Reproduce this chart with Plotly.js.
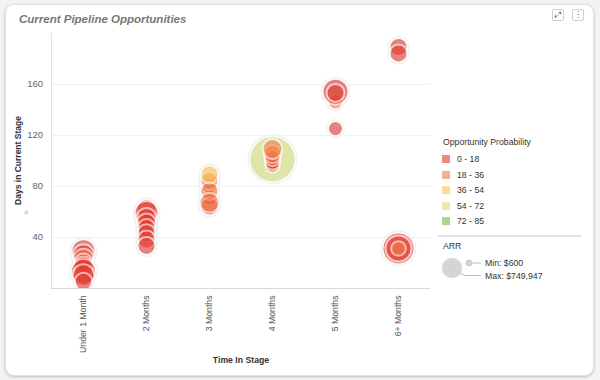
<!DOCTYPE html>
<html>
<head>
<meta charset="utf-8">
<script src="https://cdn.plot.ly/plotly-3.0.1.min.js"></script>
<style>
  html, body { margin:0; padding:0; background:#f3f3f3; width:600px; height:380px; overflow:hidden; }
  #card { position:absolute; left:5px; top:4px; width:587px; height:370px; background:#fff;
          border:1px solid #e2e2e2; border-radius:9px; box-shadow:0 1px 3px rgba(0,0,0,0.22); }
  #chart { position:absolute; left:0; top:0; width:600px; height:380px; }
  .btn { position:absolute; top:9px; width:10px; height:10px; border:1px solid #cfcfcf; border-radius:2px;
         font:8px "DejaVu Sans"; color:#555; text-align:center; line-height:10px; background:#fff; }
</style>
</head>
<body>
<div id="card"></div>
<div id="chart"></div>
<div class="btn" style="left:552px;">⤢</div>
<div class="btn" style="left:572px;">⋮</div>
<script>
// ---- data ----
var months = ['Under 1 Month', '2 Months', '3 Months', '4 Months', '5 Months', '6+ Months'];
var stage = ['4 Months',
  'Under 1 Month','Under 1 Month','Under 1 Month','Under 1 Month','Under 1 Month','Under 1 Month','Under 1 Month','Under 1 Month',
  '2 Months','2 Months','2 Months','2 Months','2 Months','2 Months','2 Months','2 Months',
  '3 Months','3 Months','3 Months','3 Months','3 Months','3 Months','3 Months',
  '4 Months','4 Months','4 Months','4 Months','4 Months',
  '5 Months','5 Months','5 Months','5 Months',
  '6+ Months','6+ Months','6+ Months','6+ Months','6+ Months'];
var days = [101,
  29, 26, 23, 20, 17, 13, 10, 5,
  62, 59, 55, 51, 47, 43, 38, 33,
  80, 71, 64, 84, 76, 67, 89,
  96, 99, 102, 105, 109,
  146, 154, 153, 125,
  189, 184, 31, 31, 31];
var arr = [749947,
  200000, 160000, 140000, 115000, 140000, 220000, 170000, 110000,
  140000, 200000, 140000, 130000, 115000, 115000, 115000, 115000,
  90000, 90000, 115000, 115000, 115000, 140000, 115000,
  70000, 90000, 90000, 115000, 140000,
  80000, 240000, 115000, 80000,
  115000, 115000, 363000, 240000, 75000];
var probability = [60,
  10, 10, 25, 10, 10, 5, 10, 12,
  10, 8, 15, 10, 10, 12, 10, 10,
  10, 10, 10, 25, 30, 25, 45,
  10, 10, 10, 20, 25,
  25, 10, 10, 10,
  10, 10, 10, 10, 25];
var bandLabels = ['0 - 18', '18 - 36', '36 - 54', '54 - 72', '72 - 85'];
var bandTop = [18, 36, 54, 72, 85];
var bandColors = ['#e3392f', '#f47c45', '#fac351', '#d3df76', '#79b750'];
var arrMin = 600, arrMax = 749947;

// ---- helpers ----
var L = 52, R = 430, T = 33, B = 288;
function px(x) { return (x - L) / (R - L); }
function py(y) { return (B - y) / (B - T); }
function band(p) { for (var i = 0; i < bandTop.length; i++) if (p <= bandTop[i]) return i; return bandTop.length - 1; }
var maxD = 46, minD = 6;
var diam = arr.map(function (a) { return Math.max(minD, maxD * Math.sqrt(a / arrMax)); });
var cols = probability.map(function (p) { return bandColors[band(p)]; });

var halo = {
  type: 'scatter', mode: 'markers', x: stage, y: days, hoverinfo: 'skip', showlegend: false,
  marker: { size: diam.map(function (d) { return d + 4; }), sizemode: 'diameter', color: '#e9e9e9', line: { width: 0 } }
};
var bubbles = {
  type: 'scatter', mode: 'markers', x: stage, y: days, showlegend: false,
  marker: { size: diam, sizemode: 'diameter', color: cols, opacity: 0.6, line: { color: '#ffffff', width: 2 } }
};

var font = 'Liberation Sans, Arial, sans-serif';
var fs = 8.7;
var shapes = [], ann = [];
ann.push({ xref: 'paper', yref: 'paper', x: px(441), y: py(142), xanchor: 'left', yanchor: 'middle',
  text: 'Opportunity Probability', showarrow: false, font: { family: font, size: fs, color: '#333' } });
var rowY = [159, 175, 190, 206, 221];
for (var i = 0; i < bandLabels.length; i++) {
  shapes.push({ type: 'rect', xref: 'paper', yref: 'paper', x0: px(442), x1: px(450), y0: py(rowY[i] - 4), y1: py(rowY[i] + 4),
    fillcolor: bandColors[i], opacity: 0.6, line: { width: 0 } });
  ann.push({ xref: 'paper', yref: 'paper', x: px(455), y: py(rowY[i]), xanchor: 'left', yanchor: 'middle',
    text: bandLabels[i], showarrow: false, font: { family: font, size: fs, color: '#333' } });
}
shapes.push({ type: 'line', xref: 'paper', yref: 'paper', x0: px(438), x1: px(581), y0: py(236), y1: py(236), line: { color: '#e3e3e3', width: 2 } });
ann.push({ xref: 'paper', yref: 'paper', x: px(441), y: py(246), xanchor: 'left', yanchor: 'middle',
  text: 'ARR', showarrow: false, font: { family: font, size: fs, color: '#333' } });
shapes.push({ type: 'circle', xref: 'paper', yref: 'paper', x0: px(442), x1: px(462), y0: py(258), y1: py(278), fillcolor: '#d4d4d4', line: { color: '#e4e4e4', width: 1 } });
shapes.push({ type: 'circle', xref: 'paper', yref: 'paper', x0: px(466), x1: px(472), y0: py(260), y1: py(266), fillcolor: '#d4d4d4', line: { color: '#c8c8c8', width: 1 } });
shapes.push({ type: 'line', xref: 'paper', yref: 'paper', x0: px(472), x1: px(481), y0: py(263), y1: py(263), line: { color: '#bbb', width: 1 } });
shapes.push({ type: 'path', xref: 'paper', yref: 'paper',
  path: 'M ' + px(460) + ',' + py(273) + ' L ' + px(465) + ',' + py(275.5) + ' L ' + px(481) + ',' + py(275.5), line: { color: '#bbb', width: 1 } });
ann.push({ xref: 'paper', yref: 'paper', x: px(483), y: py(263), xanchor: 'left', yanchor: 'middle',
  text: 'Min: $' + arrMin.toLocaleString('en-US'), showarrow: false, font: { family: font, size: fs, color: '#333' } });
ann.push({ xref: 'paper', yref: 'paper', x: px(483), y: py(275.5), xanchor: 'left', yanchor: 'middle',
  text: 'Max: $' + arrMax.toLocaleString('en-US'), showarrow: false, font: { family: font, size: fs, color: '#333' } });
ann.push({ xref: 'paper', yref: 'paper', x: px(26), y: py(213), xanchor: 'center', yanchor: 'middle', textangle: -90,
  text: '≡', showarrow: false, font: { family: 'DejaVu Sans', size: 6, color: '#aaa' } });

var layout = {
  width: 600, height: 380,
  paper_bgcolor: 'rgba(0,0,0,0)', plot_bgcolor: 'rgba(0,0,0,0)',
  margin: { l: L, r: 600 - R, t: T, b: 380 - B },
  showlegend: false,
  title: { text: 'Current Pipeline Opportunities', x: 19 / 600, xref: 'container', xanchor: 'left',
    y: 1 - 19 / 380, yref: 'container', yanchor: 'middle',
    font: { family: font, size: 11.5, color: '#777', weight: 'bold', style: 'italic' } },
  xaxis: { type: 'category', categoryorder: 'array', categoryarray: months, range: [-0.5, 5.5],
    tickangle: -90, showgrid: false, zeroline: false, showline: true, linecolor: '#d9d9d9', linewidth: 1,
    ticks: 'outside', ticklen: 3, tickcolor: 'rgba(0,0,0,0)',
    tickfont: { family: font, size: fs, color: '#555' },
    title: { text: 'Time In Stage', standoff: 4, font: { family: font, size: fs, color: '#333', weight: 'bold' } } },
  yaxis: { range: [0, 200], tickvals: [40, 80, 120, 160], showgrid: true, gridcolor: '#f1f1f1', zeroline: false,
    showline: true, linecolor: '#e3e3e3', linewidth: 1, ticks: 'outside', ticklen: 6, tickcolor: 'rgba(0,0,0,0)',
    tickfont: { family: font, size: 9.5, color: '#666' },
    title: { text: 'Days in Current Stage', standoff: 4, font: { family: font, size: 8.5, color: '#333', weight: 'bold' } } },
  shapes: shapes, annotations: ann,
  hovermode: 'closest'
};
Plotly.newPlot('chart', [halo, bubbles], layout, { displayModeBar: false, staticPlot: true });
</script>
</body>
</html>
